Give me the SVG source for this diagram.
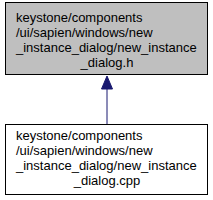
<svg xmlns="http://www.w3.org/2000/svg" width="213" height="200" viewBox="0 0 213 200">
<style>
.box{stroke:#000;stroke-width:1}
text{font-family:"Liberation Sans",Arial,sans-serif;font-size:13px;fill:#000}
.edge{stroke:#191970;stroke-width:1;fill:none}
</style>
<rect width="213" height="200" fill="#fff"/>
<g id="node1">
<rect class="box" x="5.5" y="2.5" width="202" height="72" fill="#bfbfbf"/>
<text x="16" y="22">keystone/components</text>
<text x="16" y="37">/ui/sapien/windows/new</text>
<text x="16" y="52">_instance_dialog/new_instance</text>
<text x="107" y="67" text-anchor="middle">_dialog.h</text>
</g>
<g id="node2">
<rect class="box" x="5.5" y="124.5" width="202" height="70" fill="#fff"/>
<text x="16" y="140">keystone/components</text>
<text x="16" y="155">/ui/sapien/windows/new</text>
<text x="16" y="170">_instance_dialog/new_instance</text>
<text x="107" y="185" text-anchor="middle">_dialog.cpp</text>
</g>
<g id="edges">
<path class="edge" d="M107,124 L107,89"/>
<polygon points="107,76 101.5,89 112.5,89" fill="#191970" stroke="#191970"/>
</g>
</svg>
